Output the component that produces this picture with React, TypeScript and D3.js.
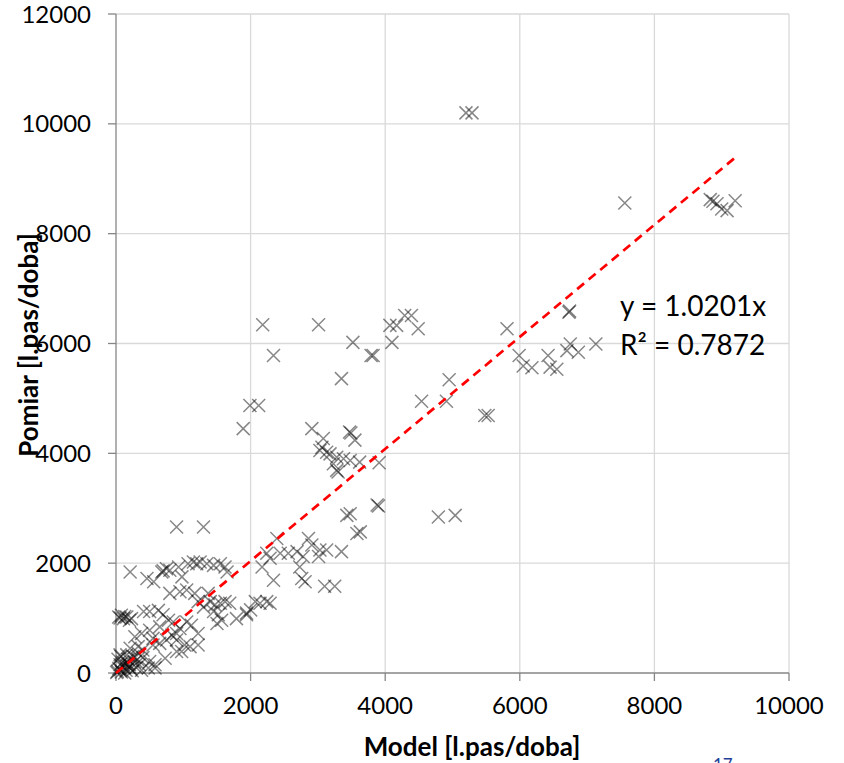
import React from 'react';
import * as d3 from 'd3';

// Model values (x) and measured values (y), l.pas/doba
const modelValues = [
  5200, 5290, 7560, 8830, 8870, 8930, 9000, 9080, 9200,
  6730, 6740, 7130, 6750, 6700, 6870, 6420, 6450, 6550, 6180, 6050, 5990, 5810,
  5480, 5530, 4950, 4910, 4540, 3910, 3900, 3880, 4790, 5040,
  4100, 4070, 4170, 4290, 4390, 4490, 3820, 3520, 3790, 3350, 3010, 2180, 2340,
  1990, 2120, 1890, 2910, 3080, 3470, 3490, 3550, 3030, 3180, 3280, 3380, 3480,
  3280, 3300, 3620, 3060, 3130, 3230,
  900, 1300, 3430, 3480, 3580, 3630, 2390, 2860, 2910, 3030, 3130, 3350, 2240,
  2440, 2560, 2690, 2780, 3010, 2170, 2340, 2730, 2760, 2810, 3100, 3250, 2070,
  2140, 2240, 2290, 1940, 2290,
  210, 460, 560, 680, 700, 750, 800, 930, 980, 1070, 1150, 1200, 1250, 1350,
  1450, 1550, 1620, 1650,
  800, 950, 1050, 1170, 1370, 1220, 1300, 1400, 1470, 1550, 1620, 1690, 1450,
  1520, 1570, 1500, 1790, 1940, 2000,
  40, 60, 80, 110, 130, 160, 230, 200,
  410, 500, 630, 700, 780, 850, 650, 950, 1050, 1120, 1220, 280, 380, 500, 550,
  650, 750, 900, 1020, 1100, 330, 400, 210, 60, 160, 480, 580, 550, 830, 900,
  500, 580, 730, 900, 975, 1220,
  20, 40, 60, 80, 100, 120, 150, 180, 200, 220, 250, 280, 300, 320, 350, 380,
  400, 30, 70, 130, 10, 160, 240, 60, 110, 190, 270, 330,
];

const measuredValues = [
  10200, 10200, 8560, 8620, 8590, 8545, 8450, 8420, 8600,
  6570, 6590, 5990, 5990, 5870, 5840, 5780, 5570, 5530, 5560, 5590, 5780, 6270,
  4690, 4690, 5340, 4950, 4950, 3830, 3040, 3060, 2840, 2870,
  6020, 6330, 6330, 6510, 6510, 6270, 5780, 6020, 5780, 5360, 6340, 6340, 5780,
  4870, 4870, 4450, 4450, 4270, 4390, 4370, 4240, 4050, 3990, 3930, 3900, 3870,
  3690, 3660, 3840, 4110, 4020, 3810,
  2660, 2660, 2870, 2900, 2540, 2570, 2450, 2450, 2330, 2240, 2240, 2210, 2180,
  2180, 2180, 2210, 2120, 2120, 1930, 1690, 1930, 1720, 1660, 1580, 1580, 1300,
  1270, 1300, 1270, 1090, 2090,
  1840, 1720, 1660, 1840, 1860, 1900, 1870, 1930, 1750, 1990, 2020, 1990, 2020,
  1990, 1960, 1990, 1930, 1840,
  1450, 1480, 1510, 1450, 1450, 1300, 1200, 1300, 1240, 1270, 1300, 1270, 1120,
  1060, 960, 900, 990, 1060, 1150,
  1020, 1000, 1050, 990, 1030, 1020, 990, 960,
  1120, 1120, 1140, 1060, 960, 930, 840, 810, 930, 870, 720, 660, 720, 780, 630,
  540, 600, 600, 510, 480, 480, 420, 450, 330, 330, 90, 90, 510, 690, 720,
  210, 150, 270, 390, 390, 510,
  30, 80, 150, 20, 200, 100, 50, 250, 150, 80, 300, 200, 100, 250, 150, 50,
  280, 250, 300, 0, 10, 180, 40, 60, 140, 110, 290, 360,
];

const xTicks = [0, 2000, 4000, 6000, 8000, 10000];
const yTicks = [0, 2000, 4000, 6000, 8000, 10000, 12000];
const slope = 1.0201;
const equationLines = ['y = 1.0201x', 'R\u00b2 = 0.7872'];

const W = 844, H = 763;
const font = 'Lato, "Open Sans", sans-serif';

export default function App() {
  const x = d3.scaleLinear().domain([0, 10000]).range([116, 789]);
  const y = d3.scaleLinear().domain([0, 12000]).range([673, 14]);
  const maxX = d3.max(modelValues) as number;
  const trend = d3.line<number>().x(d => x(d)).y(d => y(d * slope));
  const m = 6.5;

  return (
    <svg width={W} height={H} style={{ position: 'absolute', left: 0, top: 0, background: '#fff' }}>
      {/* grid */}
      {xTicks.slice(1).map(t => (
        <line key={'gx' + t} x1={x(t)} x2={x(t)} y1={y(0)} y2={y(12000)} stroke="#d9d9d9" strokeWidth={1.3} />
      ))}
      {yTicks.slice(1).map(t => (
        <line key={'gy' + t} x1={x(0)} x2={x(10000)} y1={y(t)} y2={y(t)} stroke="#d9d9d9" strokeWidth={1.3} />
      ))}
      {/* axes */}
      <line x1={x(0)} x2={x(0)} y1={y(0)} y2={y(12000)} stroke="#868686" strokeWidth={1.3} />
      <line x1={x(0)} x2={x(10000)} y1={y(0)} y2={y(0)} stroke="#868686" strokeWidth={1.3} />
      {yTicks.map(t => (
        <g key={'ty' + t}>
          <line x1={x(0) - 8} x2={x(0)} y1={y(t)} y2={y(t)} stroke="#868686" strokeWidth={1.3} />
          <text x={91} y={y(t)} dy="0.36em" textAnchor="end" fontFamily={font} fontSize={24} fill="#000">{t}</text>
        </g>
      ))}
      {xTicks.map(t => (
        <g key={'tx' + t}>
          <line x1={x(t)} x2={x(t)} y1={y(0)} y2={y(0) + 8} stroke="#868686" strokeWidth={1.3} />
          <text x={x(t)} y={714} textAnchor="middle" fontFamily={font} fontSize={24} fill="#000">{t}</text>
        </g>
      ))}
      {/* points */}
      {modelValues.map((mv, i) => {
        const cx = x(mv), cy = y(measuredValues[i]);
        return (
          <path key={'p' + i}
            d={`M${cx - m},${cy - m}L${cx + m},${cy + m}M${cx - m},${cy + m}L${cx + m},${cy - m}`}
            stroke="#000" strokeOpacity={0.47} strokeWidth={1.5} fill="none" />
        );
      })}
      {/* trendline */}
      <path d={trend([0, maxX]) || ''} stroke="#ff0000" strokeWidth={2.7} strokeDasharray="9,6" fill="none" />
      {equationLines.map((s, i) => (
        <text key={s} x={620} y={316 + i * 39} fontFamily={font} fontSize={28} fill="#000">{s}</text>
      ))}
      {/* titles */}
      <text x={472} y={756} textAnchor="middle" fontFamily={font} fontSize={26} fontWeight="bold">Model [l.pas/doba]</text>
      <text transform="translate(38,345) rotate(-90)" textAnchor="middle" fontFamily={font} fontSize={26} fontWeight="bold">Pomiar [l.pas/doba]</text>
      <text x={713} y={771} fontFamily={font} fontSize={17} fill="#1f3f99">17</text>
    </svg>
  );
}
